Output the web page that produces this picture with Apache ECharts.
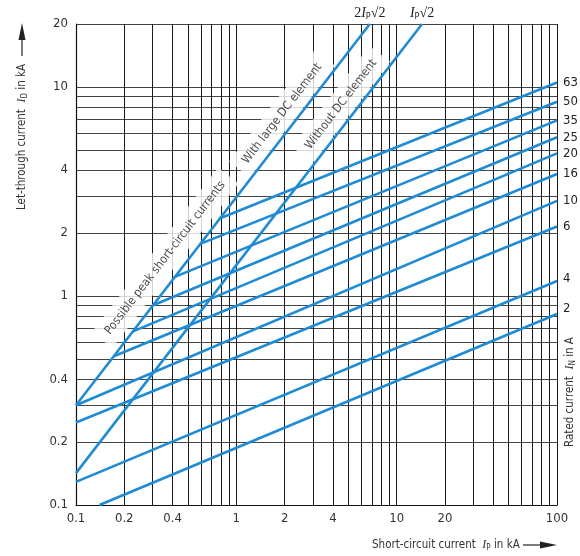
<!DOCTYPE html>
<html>
<head>
<meta charset="utf-8">
<script src="https://cdn.jsdelivr.net/npm/echarts@6/dist/echarts.min.js"></script>
<style>html,body{margin:0;padding:0;background:#fff}#c{width:580px;height:556px}</style>
</head>
<body>
<div id="c"></div>
<script>
// ---- data ----
const xGridValues = [0.1,0.2,0.3,0.4,0.5,0.6,0.7,0.8,0.9,1,2,3,4,5,6,7,8,9,10,20,30,40,50,60,70,80,90,100];
const yGridValues = [0.1,0.2,0.3,0.4,0.5,0.6,0.7,0.8,0.9,1,2,3,4,5,6,7,8,9,10,20];
const xTickLabels = [0.1,0.2,0.4,1,2,4,10,20,100];
const yTickLabels = [0.1,0.2,0.4,1,2,4,10,20];

const ratedCurrents = ['2','4','6','10','16','20','25','35','50','63'];
const ratedStartX   = [0.14,0.1,0.1,0.1,0.172,0.225,0.3,0.41,0.59,0.78];
const ratedStartY   = [0.1,0.129,0.248,0.3,0.515,0.675,0.9,1.23,1.77,2.34];
const ratedEndX     = [100,100,100,100,100,100,100,100,100,100];
const ratedEndY     = [0.82,1.18,2.15,2.85,3.83,4.81,5.74,6.92,8.5,10.5];

const peak2X = [0.1, 6.8];   // 2 Ip sqrt2 (with large DC element)
const peak2Y = [0.3, 20];
const peak1X = [0.1, 14.4];  // Ip sqrt2 (without DC element)
const peak1Y = [0.142, 20];

const noteTexts = ['Possible peak short-circuit currents','With large DC element','Without DC element'];

// ---- styling / layout ----
const FONT = '"Liberation Sans Narrow","DejaVu Sans Condensed",Roboto,sans-serif';
const BLUE = '#1f8bd4';
const noteAnchors = [[0.36,1.52],[1.93,7.45],[4.5,8.25]];
const endLabelOffsets = {'2':[0,-5],'4':[0,-2]};

const chart = echarts.init(document.getElementById('c'), null, {renderer:'canvas'});
const series = [];
ratedCurrents.forEach((name,i)=>{
  series.push({
    name: name, type:'line', symbol:'none', silent:true, z:12,
    lineStyle:{color:BLUE,width:2.6},
    data:[[ratedStartX[i],ratedStartY[i]],[ratedEndX[i],ratedEndY[i]]],
    endLabel:{show:true, formatter:'{a}', color:'#222', fontFamily:FONT, fontSize:13, distance:6,
      offset:endLabelOffsets[name]||[0,0]}
  });
});
const peakRich = {
  n:{fontFamily:'"Liberation Serif",serif',fontSize:14,color:'#222'},
  i:{fontFamily:'"Liberation Serif",serif',fontStyle:'italic',fontSize:14,color:'#222'},
  s:{fontFamily:FONT,fontSize:9,color:'#222',verticalAlign:'bottom',padding:[6,0,0,0]}
};
series.push({
  name:'2Ip√2', type:'line', symbol:'none', silent:true, z:12,
  lineStyle:{color:BLUE,width:2.6},
  data: peak2X.map((x,i)=>[x,peak2Y[i]]),
  endLabel:{show:true, formatter:'{n|2}{i|I}{s|P}{n|√2}', rich:peakRich, align:'center', verticalAlign:'bottom', distance:0, offset:[0,-3]}
});
series.push({
  name:'Ip√2', type:'line', symbol:'none', silent:true, z:12,
  lineStyle:{color:BLUE,width:2.6},
  data: peak1X.map((x,i)=>[x,peak1Y[i]]),
  endLabel:{show:true, formatter:'{i|I}{s|P}{n|√2}', rich:peakRich, align:'center', verticalAlign:'bottom', distance:0, offset:[0,-3]}
});
series.push({
  type:'scatter', silent:true, z:10, symbolSize:1, itemStyle:{color:'rgba(0,0,0,0)'},
  data: noteTexts.map((t,i)=>({value:noteAnchors[i], name:t})),
  label:{show:true, position:'inside', rotate:52.5, formatter:'{b}', color:'#222', fontFamily:FONT, fontSize:12,
    backgroundColor:'#ffffff', padding:[7,9]}
});

const labelFmt = v => String(+(+v).toPrecision(3));
const nameRich = {
  i:{fontFamily:'"Liberation Serif",serif',fontStyle:'italic',fontSize:12,fill:'#333'},
  s:{fontFamily:FONT,fontSize:8,fill:'#333',verticalAlign:'bottom',padding:[6,0,0,0]}
};

chart.setOption({
  animation:false,
  backgroundColor:'#fff',
  grid:{left:76, right:23, top:24, bottom:51},
  xAxis:{
    type:'log', logBase:10, min:0.1, max:100,
    axisLine:{show:true, lineStyle:{color:'#111',width:1.2}},
    axisTick:{show:false, customValues:xGridValues},
    splitLine:{show:true, lineStyle:{color:'#1a1a1a',width:1}},
    axisLabel:{customValues:xTickLabels, formatter:labelFmt, color:'#333', fontFamily:FONT, fontSize:13, margin:7}
  },
  yAxis:{
    type:'log', logBase:10, min:0.1, max:20,
    axisLine:{show:true, lineStyle:{color:'#111',width:1.2}},
    axisTick:{show:false, customValues:yGridValues},
    splitLine:{show:true, lineStyle:{color:'#444',width:1}},
    axisLabel:{customValues:yTickLabels, formatter:labelFmt, color:'#333', fontFamily:FONT, fontSize:13, margin:8}
  },
  series: series,
  graphic:[
    {type:'text', x:22, y:137, rotation:Math.PI/2,
      style:{text:'Let-through current  {i|I}{s|D} in kA', align:'center', verticalAlign:'middle',
        fill:'#333', font:'11.5px '+FONT, rich:nameRich}},
    {type:'line', shape:{x1:22,y1:56,x2:22,y2:38}, style:{stroke:'#222',lineWidth:1.2}},
    {type:'polygon', shape:{points:[[22,23],[18.5,40],[25.5,40]]}, style:{fill:'#222'}},
    {type:'text', x:372, y:545,
      style:{text:'Short-circuit current  {i|I}{s|P} in kA', align:'left', verticalAlign:'middle',
        fill:'#333', font:'11.5px '+FONT, rich:nameRich}},
    {type:'line', shape:{x1:523,y1:545,x2:540,y2:545}, style:{stroke:'#222',lineWidth:1.2}},
    {type:'polygon', shape:{points:[[557,545],[540,541.5],[540,548.5]]}, style:{fill:'#222'}},
    {type:'text', x:570, y:392, rotation:Math.PI/2,
      style:{text:'Rated current  {i|I}{s|N} in A', align:'center', verticalAlign:'middle',
        fill:'#333', font:'11.5px '+FONT, rich:nameRich}}
  ]
});
</script>
</body>
</html>
